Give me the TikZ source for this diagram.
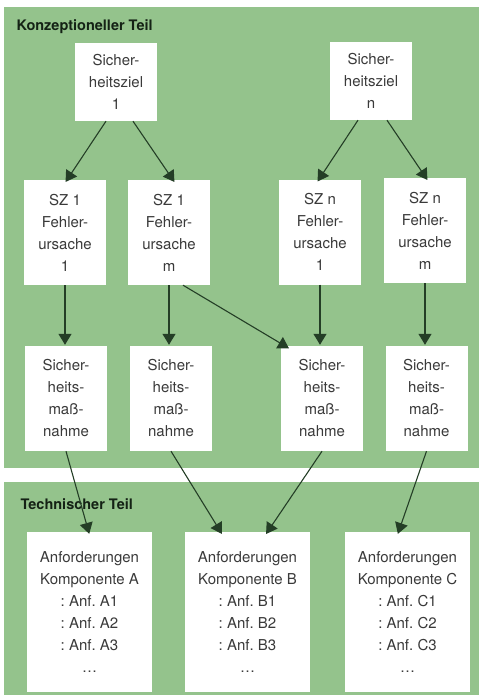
\documentclass[tikz,border=0pt]{standalone}
\usepackage{fontspec}
\setsansfont{TeX Gyre Heros}
\usetikzlibrary{arrows.meta}
\definecolor{feldgruen}{RGB}{148,195,140}
\definecolor{pfeilgruen}{RGB}{36,62,38}
\definecolor{textgrau}{RGB}{58,58,58}

\begin{document}
\begin{tikzpicture}[x=1pt, y=-1pt,
    kasten/.style={fill=white, text=textgrau, align=center, inner sep=0pt, minimum width=82pt, font=\sffamily\frenchspacing\fontsize{15}{22}\selectfont},
    klein/.style={kasten, minimum height=78pt},
    mittel/.style={kasten, minimum height=105pt},
    gross/.style={kasten, minimum width=125pt, minimum height=160pt},
    teil/.style={anchor=base west, text=pfeilgruen!55!black, font=\sffamily\bfseries\fontsize{14.5}{17}\selectfont},
    pfeil/.style={draw=pfeilgruen, line width=1.1pt, -{Triangle[length=11pt,width=13pt]}, shorten >=1pt}]

    \useasboundingbox (0,0) rectangle (483,695);
    \fill [feldgruen] (4,7) rectangle (479,468);
    \fill [feldgruen] (4,482) rectangle (479,695);

    \node [teil] (konz) at (13,31) {Konzeptioneller Teil};
    \node [teil] (tech) at (17,509) {Technischer Teil};

    \node [klein] (s1) at (116,82) {Sicher-\\heitsziel\\1};
    \node [klein] (sn) at (371,81) {Sicher-\\heitsziel\\n};

    \node [mittel] (f11) at (65,232.5) {SZ 1\\Fehler-\\ursache\\1};
    \node [mittel] (f1m) at (169,232.5) {SZ 1\\Fehler-\\ursache\\m};
    \node [mittel] (fn1) at (320,232) {SZ n\\Fehler-\\ursache\\1};
    \node [mittel] (fnm) at (425,230.5) {SZ n\\Fehler-\\ursache\\m};

    \node [mittel] (m1) at (66,398.5) {Sicher-\\heits-\\maß-\\nahme};
    \node [mittel] (m2) at (171,398.5) {Sicher-\\heits-\\maß-\\nahme};
    \node [mittel] (m3) at (322,398.5) {Sicher-\\heits-\\maß-\\nahme};
    \node [mittel] (m4) at (426.5,398.5) {Sicher-\\heits-\\maß-\\nahme};

    \node [gross] (kA) at (89.5,612) {Anforderungen\\Komponente A\\: Anf. A1\\: Anf. A2\\: Anf. A3\\\dots};
    \node [gross] (kB) at (247.5,612) {Anforderungen\\Komponente B\\: Anf. B1\\: Anf. B2\\: Anf. B3\\\dots};
    \node [gross] (kC) at (407.5,612) {Anforderungen\\Komponente C\\: Anf. C1\\: Anf. C2\\: Anf. C3\\\dots};

    % Sicherheitsziele -> Fehlerursachen
    \draw [pfeil] ([xshift=-10]s1.south) -- ([yshift=-3]f11.north);
    \draw [pfeil] ([xshift=17]s1.south) -- ([xshift=6,yshift=-3]f1m.north);
    \draw [pfeil] ([xshift=-13]sn.south) -- ([xshift=-3,yshift=-3]fn1.north);
    \draw [pfeil] ([xshift=16]sn.south) -- ([xshift=3,yshift=-3]fnm.north);

    % Fehlerursachen -> Massnahmen
    \draw [pfeil] (f11.south) -- (f11.south |- m1.north);
    \draw [pfeil] (f1m.south) -- (f1m.south |- m2.north);
    \draw [pfeil] ([xshift=14]f1m.south) -- ([xshift=9,yshift=-3]m3.north west);
    \draw [pfeil] (fn1.south) -- (fn1.south |- m3.north);
    \draw [pfeil] (fnm.south) -- (fnm.south |- m4.north);

    % Massnahmen -> Komponenten
    \draw [pfeil] (m1.south) -- ([yshift=-3]kA.north);
    \draw [pfeil] (m2.south) -- ([xshift=-25,yshift=-3]kB.north);
    \draw [pfeil] (m3.south) -- ([xshift=18,yshift=-3]kB.north);
    \draw [pfeil] (m4.south) -- ([xshift=-10,yshift=-3]kC.north);
\end{tikzpicture}
\end{document}
